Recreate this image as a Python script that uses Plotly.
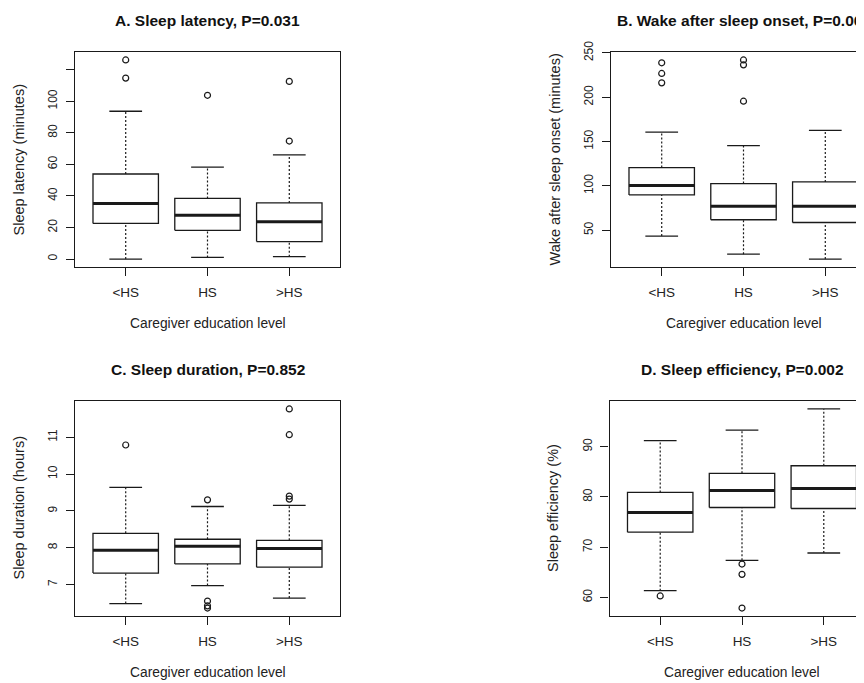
import plotly.graph_objects as go

# page body has an 8px default margin: figure covers window pixels 8..864 x 8..683
OFF = 8
W, H = 864 - OFF, 683 - OFF

cats = ["<HS", "HS", ">HS"]

# A. Sleep latency (minutes)
lat_low = [0.0, 1.0, 1.5]
lat_q1 = [22.6, 18.2, 11.1]
lat_med = [35.2, 27.7, 23.7]
lat_q3 = [53.9, 38.4, 35.6]
lat_high = [93.7, 58.3, 66.0]
lat_out = [[114.7, 126.2], [103.8], [74.8, 112.6]]
lat_ticks = [0, 20, 40, 60, 80, 100, 120]
lat_ticktext = ["0", "20", "40", "60", "80", "100", ""]

# B. Wake after sleep onset (minutes)
waso_low = [43.4, 23.0, 17.5]
waso_q1 = [89.8, 61.8, 58.7]
waso_med = [100.3, 76.9, 76.9]
waso_q3 = [120.7, 102.6, 104.5]
waso_high = [160.7, 145.3, 162.5]
waso_out = [[216.2, 226.8, 238.8], [195.5, 236.5, 242.0], []]
waso_ticks = [50, 100, 150, 200, 250]

# C. Sleep duration (hours)
dur_low = [6.48, 6.97, 6.63]
dur_q1 = [7.31, 7.56, 7.47]
dur_med = [7.93, 8.04, 7.98]
dur_q3 = [8.39, 8.23, 8.20]
dur_high = [9.64, 9.12, 9.15]
dur_out = [[10.79], [9.30, 6.55, 6.42, 6.36], [9.32, 9.40, 11.07, 11.77]]
dur_ticks = [7, 8, 9, 10, 11]

# D. Sleep efficiency (%)
eff_low = [61.35, 67.4, 68.85]
eff_q1 = [73.0, 77.9, 77.7]
eff_med = [76.9, 81.3, 81.7]
eff_q3 = [80.9, 84.7, 86.2]
eff_high = [91.2, 93.3, 97.5]
eff_out = [[60.3], [66.65, 64.6, 57.9], []]
eff_ticks = [60, 70, 80, 90]

titles = ["A. Sleep latency, P=0.031", "B. Wake after sleep onset, P=0.006",
          "C. Sleep duration, P=0.852", "D. Sleep efficiency, P=0.002"]
ytitles = ["Sleep latency (minutes)", "Wake after sleep onset (minutes)",
           "Sleep duration (hours)", "Sleep efficiency (%)"]
xtitle = "Caregiver education level"

panels = [
    dict(low=lat_low, q1=lat_q1, med=lat_med, q3=lat_q3, high=lat_high, out=lat_out,
         ticks=lat_ticks, ticktext=lat_ticktext),
    dict(low=waso_low, q1=waso_q1, med=waso_med, q3=waso_q3, high=waso_high, out=waso_out,
         ticks=waso_ticks, ticktext=[str(t) for t in waso_ticks]),
    dict(low=dur_low, q1=dur_q1, med=dur_med, q3=dur_q3, high=dur_high, out=dur_out,
         ticks=dur_ticks, ticktext=[str(t) for t in dur_ticks]),
    dict(low=eff_low, q1=eff_q1, med=eff_med, q3=eff_q3, high=eff_high, out=eff_out,
         ticks=eff_ticks, ticktext=[str(t) for t in eff_ticks]),
]

# panel frames in window pixels: (left, top, bottom); plot width 265 px
boxes_px = [(75, 52, 267), (611, 52, 267), (75, 401, 616), (609.5, 401, 616)]
PW = 265.0
XR0, XR1 = 0.38, 3.62
ppu = PW / (XR1 - XR0)

LC = "#1a1a1a"
TC = "#222222"
FONT = "Liberation Sans, Arial, Helvetica, sans-serif"

fig = go.Figure()
annotations = []


def fx(px):
    return (px - OFF) / W


def fy(py):
    return 1 - (py - OFF) / H


for k, p in enumerate(panels):
    ax = "" if k == 0 else str(k + 1)
    xref, yref = "x" + ax, "y" + ax
    left, top, bot = boxes_px[k]
    right_px = min(left + PW, 864)
    xmax = XR0 + (right_px - left) / ppu
    right_clipped = (left + PW) > 864

    allv = p["low"] + p["high"] + [v for o in p["out"] for v in o]
    vmin, vmax = min(allv), max(allv)
    pad = 0.04 * (vmax - vmin)

    for i in range(3):
        c = i + 1
        q1, q3, med, lo, hi = p["q1"][i], p["q3"][i], p["med"][i], p["low"][i], p["high"][i]
        fig.add_trace(go.Scatter(x=[c - 0.4, c + 0.4, c + 0.4, c - 0.4, c - 0.4],
                                 y=[q1, q1, q3, q3, q1], mode="lines",
                                 line=dict(color=LC, width=1.3), xaxis=xref, yaxis=yref,
                                 showlegend=False, hoverinfo="skip"))
        fig.add_trace(go.Scatter(x=[c - 0.4, c + 0.4], y=[med, med], mode="lines",
                                 line=dict(color=LC, width=3), xaxis=xref, yaxis=yref,
                                 showlegend=False, hoverinfo="skip"))
        fig.add_trace(go.Scatter(x=[c, c, None, c, c], y=[q3, hi, None, lo, q1], mode="lines",
                                 line=dict(color=LC, width=1.2, dash="2px,2px"),
                                 xaxis=xref, yaxis=yref, showlegend=False, hoverinfo="skip"))
        fig.add_trace(go.Scatter(x=[c - 0.2, c + 0.2, None, c - 0.2, c + 0.2],
                                 y=[hi, hi, None, lo, lo], mode="lines",
                                 line=dict(color=LC, width=1.3), xaxis=xref, yaxis=yref,
                                 showlegend=False, hoverinfo="skip"))
        if p["out"][i]:
            fig.add_trace(go.Scatter(x=[c] * len(p["out"][i]), y=p["out"][i], mode="markers",
                                     marker=dict(symbol="circle-open", size=6,
                                                 color=LC, line=dict(width=1.2, color=LC)),
                                     xaxis=xref, yaxis=yref, showlegend=False,
                                     hoverinfo="skip"))

    xdom = [fx(left), min(fx(right_px), 1.0)]
    ydom = [fy(bot), fy(top)]
    fig.update_layout(**{
        "xaxis" + ax: dict(domain=xdom, range=[XR0, xmax], tickvals=[1, 2, 3], ticktext=cats,
                           ticks="outside", ticklen=8, tickwidth=1.2, tickcolor=LC,
                           showline=True, mirror=True, linecolor=LC, linewidth=1.3,
                           showgrid=False, zeroline=False, anchor=yref, automargin=False,
                           tickfont=dict(size=13.5, color=TC, family=FONT),
                           ticklabelstandoff=5, fixedrange=True),
        "yaxis" + ax: dict(domain=ydom, range=[vmin - pad, vmax + pad], tickvals=p["ticks"],
                           ticktext=p["ticktext"], ticks="outside", ticklen=8, tickwidth=1.2,
                           tickcolor=LC, showline=True, mirror=(not right_clipped),
                           linecolor=LC, linewidth=1.3, showgrid=False, zeroline=False,
                           anchor=xref, tickangle=-90, automargin=False,
                           tickfont=dict(size=12, color=TC, family=FONT),
                           ticklabelstandoff=4, fixedrange=True),
    })

    cx = left + PW / 2.0
    cy = (top + bot) / 2.0
    annotations.append(dict(text="<b>" + titles[k] + "</b>", x=fx(cx), y=fy(top - 31.5),
                            xref="paper", yref="paper", xanchor="center", yanchor="middle",
                            showarrow=False, font=dict(size=15.5, color="#111", family=FONT)))
    annotations.append(dict(text=ytitles[k], x=fx(left - 57), y=fy(cy),
                            xref="paper", yref="paper", xanchor="center", yanchor="middle",
                            textangle=-90, showarrow=False,
                            font=dict(size=14.5, color=TC, family=FONT)))
    annotations.append(dict(text=xtitle, x=fx(cx), y=fy(bot + 56),
                            xref="paper", yref="paper", xanchor="center", yanchor="middle",
                            showarrow=False, font=dict(size=13.8, color=TC, family=FONT)))

fig.update_layout(width=W, height=H, margin=dict(l=0, r=0, t=0, b=0, autoexpand=False),
                  paper_bgcolor="white", plot_bgcolor="white",
                  annotations=annotations, showlegend=False,
                  font=dict(family=FONT, color=TC))

fig.write_html("out.html")
